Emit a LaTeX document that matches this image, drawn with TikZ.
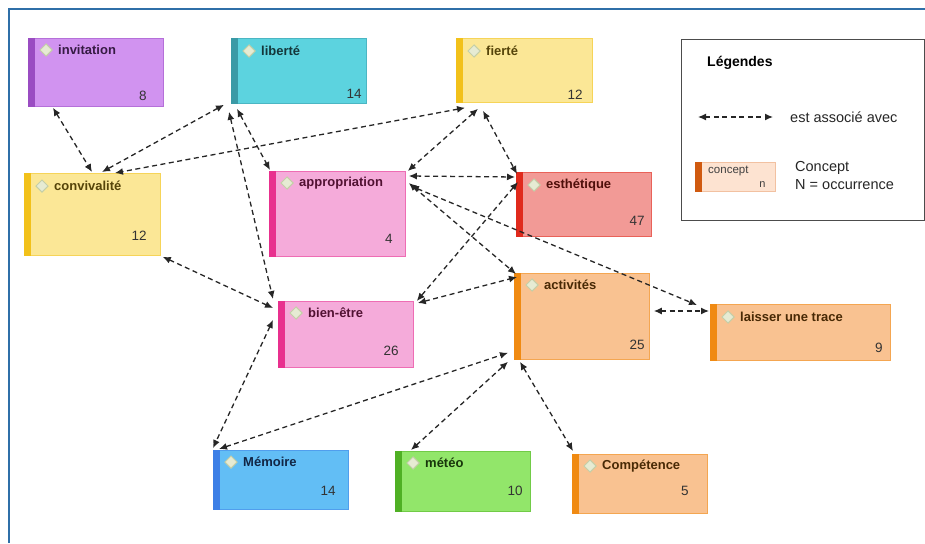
\documentclass[tikz,border=0pt]{standalone}
\usepackage{fontspec}
\setmainfont{Liberation Sans}
\usetikzlibrary{shapes.geometric,arrows.meta,calc}

\definecolor{framecol}{HTML}{2F6FA8}
\definecolor{violetfill}{HTML}{D193F0}
\definecolor{violetbar}{HTML}{9A4CC2}
\definecolor{cyanfill}{HTML}{5CD3DF}
\definecolor{cyanbar}{HTML}{3A9AA6}
\definecolor{yellowfill}{HTML}{FBE796}
\definecolor{yellowbar}{HTML}{F2C11A}
\definecolor{pinkfill}{HTML}{F5ABDA}
\definecolor{pinkbar}{HTML}{E8308E}
\definecolor{redfill}{HTML}{F29A96}
\definecolor{redbar}{HTML}{E02A1C}
\definecolor{orangefill}{HTML}{F9C291}
\definecolor{orangebar}{HTML}{F08A12}
\definecolor{bluefill}{HTML}{62BEF5}
\definecolor{bluebar}{HTML}{3D7FE6}
\definecolor{greenfill}{HTML}{92E66A}
\definecolor{greenbar}{HTML}{4FB024}
\definecolor{legfill}{HTML}{FDE3D1}
\definecolor{legbar}{HTML}{D05A10}
\definecolor{diamline}{HTML}{C4CFA8}
\definecolor{diamfill}{HTML}{E6EBD3}

\begin{document}
\begin{tikzpicture}[x=1pt,y=-1pt,
	concept/.style={rectangle, inner sep=0pt, anchor=north west, line width=0.8pt},
	ttl/.style={anchor=west, inner sep=0pt, font=\fontsize{13}{15}\selectfont\bfseries},
	occ/.style={anchor=east, inner sep=0pt, font=\fontsize{13.5}{16}\selectfont, text=black!80},
	diam/.style={diamond, draw=diamline, fill=diamfill, inner sep=0pt, minimum size=12.5pt, line width=1pt},
	link/.style={<->, >={Latex[length=8pt,width=7pt]}, dash pattern=on 5pt off 3.5pt, line width=1.3pt, black!85}]
	\useasboundingbox (0,0) rectangle (925,543);
	\draw [framecol, line width=1.5pt] (9,543) -- (9,9) -- (925,9);
	
	% invitation
	\node[concept, fill=violetfill, draw=violetbar!50!violetfill, minimum width=135pt, minimum height=68pt] (inv) at (28,38) {};
	\fill[violetbar] (inv.north west) rectangle ($(inv.south west)+(7,0)$);
	\node[diam] at ($(inv.north west)+(18,12)$) {};
	\node[ttl, text=violetbar!35!black] at ($(inv.north west)+(30,12)$) {invitation};
	\node[occ] at ($(inv.south east)+(-17,-11)$) {8};
	
	% liberte
	\node[concept, fill=cyanfill, draw=cyanbar!50!cyanfill, minimum width=135pt, minimum height=65pt] (lib) at (231,38) {};
	\fill[cyanbar] (lib.north west) rectangle ($(lib.south west)+(7,0)$);
	\node[diam] at ($(lib.north west)+(18,13)$) {};
	\node[ttl, text=cyanbar!35!black] at ($(lib.north west)+(30,13)$) {liberté};
	\node[occ] at ($(lib.south east)+(-5,-10)$) {14};
	
	% fierte
	\node[concept, fill=yellowfill, draw=yellowbar!50!yellowfill, minimum width=136pt, minimum height=64pt] (fie) at (456,38) {};
	\fill[yellowbar] (fie.north west) rectangle ($(fie.south west)+(7,0)$);
	\node[diam] at ($(fie.north west)+(18,13)$) {};
	\node[ttl, text=yellowbar!35!black] at ($(fie.north west)+(30,13)$) {fierté};
	\node[occ] at ($(fie.south east)+(-10,-8)$) {12};
	
	% convivalite
	\node[concept, fill=yellowfill, draw=yellowbar!50!yellowfill, minimum width=136pt, minimum height=82pt] (con) at (24,173) {};
	\fill[yellowbar] (con.north west) rectangle ($(con.south west)+(7,0)$);
	\node[diam] at ($(con.north west)+(18,13)$) {};
	\node[ttl, text=yellowbar!35!black] at ($(con.north west)+(30,13)$) {convivalité};
	\node[occ] at ($(con.south east)+(-14,-20)$) {12};
	
	% appropriation
	\node[concept, fill=pinkfill, draw=pinkbar!50!pinkfill, minimum width=136pt, minimum height=85pt] (app) at (269,171) {};
	\fill[pinkbar] (app.north west) rectangle ($(app.south west)+(7,0)$);
	\node[diam] at ($(app.north west)+(18,12)$) {};
	\node[ttl, text=pinkbar!35!black] at ($(app.north west)+(30,12)$) {appropriation};
	\node[occ] at ($(app.south east)+(-13,-18)$) {4};
	
	% esthetique
	\node[concept, fill=redfill, draw=redbar!50!redfill, minimum width=135pt, minimum height=64pt] (est) at (516,172) {};
	\fill[redbar] (est.north west) rectangle ($(est.south west)+(7,0)$);
	\node[diam] at ($(est.north west)+(18,13)$) {};
	\node[ttl, text=redbar!35!black] at ($(est.north west)+(30,13)$) {esthétique};
	\node[occ] at ($(est.south east)+(-7,-16)$) {47};
	
	% bien-etre
	\node[concept, fill=pinkfill, draw=pinkbar!50!pinkfill, minimum width=135pt, minimum height=66pt] (bie) at (278,301) {};
	\fill[pinkbar] (bie.north west) rectangle ($(bie.south west)+(7,0)$);
	\node[diam] at ($(bie.north west)+(18,12)$) {};
	\node[ttl, text=pinkbar!35!black] at ($(bie.north west)+(30,12)$) {bien-être};
	\node[occ] at ($(bie.south east)+(-15,-17)$) {26};
	
	% activites
	\node[concept, fill=orangefill, draw=orangebar!50!orangefill, minimum width=135pt, minimum height=86pt] (act) at (514,273) {};
	\fill[orangebar] (act.north west) rectangle ($(act.south west)+(7,0)$);
	\node[diam] at ($(act.north west)+(18,12)$) {};
	\node[ttl, text=orangebar!30!black] at ($(act.north west)+(30,12)$) {activités};
	\node[occ] at ($(act.south east)+(-5,-15)$) {25};
	
	% laisser une trace
	\node[concept, fill=orangefill, draw=orangebar!50!orangefill, minimum width=180pt, minimum height=56pt] (lai) at (710,304) {};
	\fill[orangebar] (lai.north west) rectangle ($(lai.south west)+(7,0)$);
	\node[diam] at ($(lai.north west)+(18,13)$) {};
	\node[ttl, text=orangebar!30!black] at ($(lai.north west)+(30,13)$) {laisser une trace};
	\node[occ] at ($(lai.south east)+(-8,-13)$) {9};
	
	% Memoire
	\node[concept, fill=bluefill, draw=bluebar!50!bluefill, minimum width=135pt, minimum height=59pt] (mem) at (213,450) {};
	\fill[bluebar] (mem.north west) rectangle ($(mem.south west)+(7,0)$);
	\node[diam] at ($(mem.north west)+(18,12)$) {};
	\node[ttl, text=bluebar!30!black] at ($(mem.north west)+(30,12)$) {Mémoire};
	\node[occ] at ($(mem.south east)+(-13,-19)$) {14};
	
	% meteo
	\node[concept, fill=greenfill, draw=greenbar!50!greenfill, minimum width=135pt, minimum height=60pt] (met) at (395,451) {};
	\fill[greenbar] (met.north west) rectangle ($(met.south west)+(7,0)$);
	\node[diam] at ($(met.north west)+(18,12)$) {};
	\node[ttl, text=greenbar!30!black] at ($(met.north west)+(30,12)$) {météo};
	\node[occ] at ($(met.south east)+(-8,-21)$) {10};
	
	% Competence
	\node[concept, fill=orangefill, draw=orangebar!50!orangefill, minimum width=135pt, minimum height=59pt] (com) at (572,454) {};
	\fill[orangebar] (com.north west) rectangle ($(com.south west)+(7,0)$);
	\node[diam] at ($(com.north west)+(18,12)$) {};
	\node[ttl, text=orangebar!30!black] at ($(com.north west)+(30,12)$) {Compétence};
	\node[occ] at ($(com.south east)+(-19,-23)$) {5};
	
	% associations
	\draw [link] ($(inv.south west)+(25,1)$) -- ($(con.north west)+(68,-1)$);
	\draw [link] ($(lib.south west)+(-7,1)$) -- ($(con.north west)+(78,-1)$);
	\draw [link] ($(fie.south west)+(9,5)$) -- ($(con.north west)+(91,0)$);
	\draw [link] ($(lib.south west)+(6,5)$) -- ($(app.north west)+(1,-1)$);
	\draw [link] ($(lib.south west)+(-2,8)$) -- ($(bie.north west)+(-5,-2)$);
	\draw [link] ($(fie.south west)+(22,6)$) -- ($(app.north east)+(2,0)$);
	\draw [link] ($(fie.south west)+(27,8)$) -- ($(est.north west)+(1,2)$);
	\draw [link] ($(app.north east)+(3,5)$) -- ($(est.north west)+(-1,5)$);
	\draw [link] ($(app.north east)+(3,12)$) -- ($(act.north west)+(2,1)$);
	\draw [link] ($(app.north east)+(5,15)$) -- ($(lai.north west)+(-13,1)$);
	\draw [link] ($(est.north west)+(2,10)$) -- ($(bie.north east)+(3,0)$);
	\draw [link] ($(bie.north east)+(4,2)$) -- ($(act.north west)+(3,4)$);
	\draw [link] ($(con.south east)+(2,1)$) -- ($(bie.north west)+(-5,7)$);
	\draw [link] ($(bie.north west)+(-5,19)$) -- ($(mem.north west)+(0,-2)$);
	\draw [link] ($(mem.north west)+(6,-1)$) -- ($(act.south west)+(-6,-7)$);
	\draw [link] ($(met.north west)+(16,-1)$) -- ($(act.south west)+(-6,2)$);
	\draw [link] ($(act.south west)+(6,2)$) -- ($(com.north west)+(1,-3)$);
	\draw [link] ($(act.north east)+(4,38)$) -- ($(lai.north west)+(-1,7)$);
	
	% legende
	\node[concept, draw=black!70, line width=1pt, minimum width=243pt, minimum height=181pt] (leg) at (681,39) {};
	\node[anchor=west, inner sep=0pt, font=\fontsize{14}{16}\selectfont\bfseries] (legt) at (707,63) {Légendes};
	\coordinate (la) at (698,117);
	\coordinate (lb) at (773,117);
	\draw [link] (la) -- (lb);
	\node[anchor=west, inner sep=0pt, font=\fontsize{14.5}{17}\selectfont, text=black!85] (lasso) at (790,117) {est associé avec};
	\node[concept, fill=legfill, draw=legbar!25!legfill, minimum width=80pt, minimum height=29pt] (lcon) at (695,162) {};
	\fill[legbar] (lcon.north west) rectangle ($(lcon.south west)+(7,0)$);
	\node[anchor=west, inner sep=0pt, font=\fontsize{11.5}{13}\selectfont, text=black!75] at ($(lcon.north west)+(13,9)$) {concept};
	\node[anchor=east, inner sep=0pt, font=\fontsize{11}{13}\selectfont, text=black!75] at ($(lcon.south east)+(-10,-7)$) {n};
	\node[anchor=west, inner sep=0pt, font=\fontsize{14.5}{17}\selectfont, text=black!85] (lc1) at (795,168) {Concept};
	\node[anchor=west, inner sep=0pt, font=\fontsize{14.5}{17}\selectfont, text=black!85] (lc2) at (795,185) {N = occurrence};
\end{tikzpicture}
\end{document}
